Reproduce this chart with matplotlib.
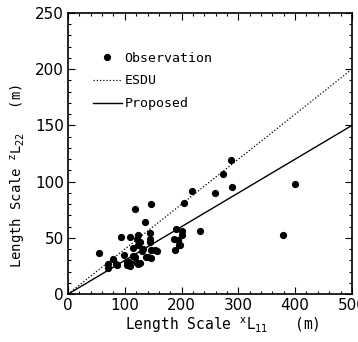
import matplotlib
matplotlib.use("Agg")
import matplotlib.pyplot as plt
from matplotlib.ticker import MultipleLocator

obs_x = [55, 71, 71, 79, 85, 87, 93, 99, 103, 103,
         108, 109, 109, 114, 115, 118, 118, 120, 122, 123,
         124, 124, 126, 127, 131, 132, 136, 137, 140, 144,
         144, 144, 147, 147, 147, 153, 156, 187, 188, 191,
         194, 195, 197, 200, 200, 204, 218, 233, 258, 273,
         287, 289, 379, 400]
obs_y = [37, 27, 23, 31, 27, 26, 51, 35, 29, 26,
         29, 51, 25, 34, 41, 33, 76, 29, 49, 44,
         53, 27, 28, 46, 38, 40, 64, 33, 33, 54,
         49, 46, 80, 32, 39, 39, 38, 49, 39, 58,
         48, 44, 44, 56, 53, 81, 92, 56, 90, 107,
         119, 95, 53, 98]

line_x = [0, 500]
esdu_y = [0, 200]
proposed_y = [0, 150]

mono = ['DejaVu Sans Mono']
narrow = ['Liberation Sans Narrow', 'DejaVu Sans']

plt.rcParams['mathtext.fontset'] = 'dejavusans'

fig = plt.figure(figsize=(3.58, 3.42), dpi=100)
ax = fig.add_axes([0.19, 0.14, 0.793, 0.822])

ax.plot(obs_x, obs_y, 'o', color='black', ms=4.2, label='Observation', zorder=3)
ax.plot(line_x, esdu_y, color='black', lw=0.9, ls=(0, (1, 1.6)), label='ESDU')
ax.plot(line_x, proposed_y, color='black', lw=1.0, ls='-', label='Proposed')

ax.set_xlim(0, 500)
ax.set_ylim(0, 250)
ax.xaxis.set_major_locator(MultipleLocator(100))
ax.xaxis.set_minor_locator(MultipleLocator(20))
ax.yaxis.set_major_locator(MultipleLocator(50))
ax.yaxis.set_minor_locator(MultipleLocator(10))
ax.tick_params(which='both', direction='in', top=True, right=True, width=0.8, colors='black')
ax.tick_params(which='major', length=5, labelsize=11, pad=3)
ax.tick_params(which='minor', length=2.5)
for lab in ax.get_xticklabels() + ax.get_yticklabels():
    lab.set_family(narrow)
for s in ax.spines.values():
    s.set_linewidth(1.2)

ax.set_xlabel(r'Length Scale $^{\mathrm{x}}\mathrm{L}_{11}$   (m)', family=mono, fontsize=10.5, labelpad=2)
ax.set_ylabel(r'Length Scale $^{\mathrm{z}}\mathrm{L}_{22}$   (m)', family=mono, fontsize=10, labelpad=4)
ax.xaxis.set_label_coords(0.545, -0.075)
ax.yaxis.set_label_coords(-0.14, 0.42)

leg = ax.legend(loc='upper left', bbox_to_anchor=(0.045, 0.905), frameon=False,
                prop={'family': mono, 'size': 9.5}, handlelength=2.2,
                handletextpad=0.2, labelspacing=0.75, numpoints=1)

fig.savefig('out.png', dpi=100)
